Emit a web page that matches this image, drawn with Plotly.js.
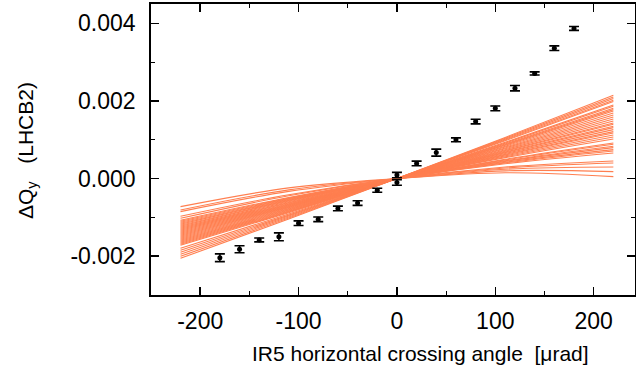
<!DOCTYPE html>
<html>
<head>
<meta charset="utf-8">
<script src="https://cdn.plot.ly/plotly-3.0.1.min.js"></script>
<style>html,body{margin:0;padding:0;background:#fff;}#chart{width:636px;height:374px;}</style>
</head>
<body>
<div id="chart"></div>
<script>
// Measured tune shift vs crossing angle
const angle = [-180, -160, -140, -120, -100, -80, -60, -40, -20, 0, 0, 20, 40, 60, 80, 100, 120, 140, 160, 180];
const dQy = [-0.00204, -0.00182, -0.00158, -0.00150, -0.00115, -0.00105, -0.00077, -0.00063, -0.00030, 0.00009, -0.00010,
             0.00039, 0.00067, 0.00100, 0.00147, 0.00181, 0.00233, 0.00271, 0.00336, 0.00387];
const dQyErr = [0.00010, 0.00009, 0.00005, 0.00010, 0.00006, 0.00006, 0.00006, 0.00006, 0.00005, 0.00007, 0.00007,
                0.00006, 0.00009, 0.00005, 0.00006, 0.00006, 0.00007, 0.00004, 0.00006, 0.00005];

// Model curves, sampled at these crossing angles
const curveX = [-220, -110, 0, 110, 220];
// values of each curve at -220, -110, 0, 110, 220
const curveAtM220 = [-0.002054, -0.002003, -0.001951, -0.001899, -0.001848, -0.001796, -0.001719, -0.001693, -0.001668, -0.001642,
  -0.001616, -0.001590, -0.001564, -0.001539, -0.001513, -0.001487, -0.001461, -0.001436, -0.001410, -0.001384,
  -0.001358, -0.001332, -0.001307, -0.001281, -0.001255, -0.001229, -0.001204, -0.001178, -0.001152, -0.001126,
  -0.001101, -0.001075, -0.001023, -0.000972, -0.000851, -0.000809, -0.000722];
const curveAtM110 = [-0.001039, -0.001014, -0.000989, -0.000964, -0.000941, -0.000911, -0.000878, -0.000861, -0.000848, -0.000834,
  -0.000817, -0.000801, -0.000785, -0.000769, -0.000753, -0.000737, -0.000723, -0.000707, -0.000693, -0.000677,
  -0.000661, -0.000646, -0.000631, -0.000614, -0.000598, -0.000576, -0.000562, -0.000546, -0.000532, -0.000516,
  -0.000502, -0.000486, -0.000440, -0.000415, -0.000330, -0.000290, -0.000240];
const curveAtP110 = [0.001062, 0.001039, 0.001017, 0.000994, 0.000975, 0.000936, 0.000914, 0.000891, 0.000875, 0.000859,
  0.000836, 0.000813, 0.000791, 0.000768, 0.000746, 0.000723, 0.000707, 0.000685, 0.000669, 0.000647,
  0.000624, 0.000607, 0.000585, 0.000562, 0.000540, 0.000498, 0.000482, 0.000459, 0.000444, 0.000421,
  0.000404, 0.000382, 0.000298, 0.000272, 0.000240, 0.000200, 0.000150];
const curveAtP220 = [0.002147, 0.002103, 0.002062, 0.002018, 0.001985, 0.001897, 0.001863, 0.001812, 0.001778, 0.001742,
  0.001691, 0.001639, 0.001588, 0.001536, 0.001485, 0.001433, 0.001399, 0.001348, 0.001314, 0.001263,
  0.001211, 0.001175, 0.001124, 0.001072, 0.001021, 0.000918, 0.000884, 0.000832, 0.000799, 0.000747,
  0.000711, 0.000660, 0.000454, 0.000402, 0.000299, 0.000180, 0.000052];

const xTickVals = [-200, -100, 0, 100, 200];
const yTickVals = [-0.002, 0.000, 0.002, 0.004];
const yTickText = ['-0.002', '0.000', '0.002', '0.004'];

const traces = [];
for (let i = 0; i < curveAtP220.length; i++) {
  traces.push({
    type: 'scatter', mode: 'lines', x: curveX,
    y: [curveAtM220[i], curveAtM110[i], 0, curveAtP110[i], curveAtP220[i]],
    line: {color: '#ff7f50', width: 1.1, shape: 'spline'},
    hoverinfo: 'skip', showlegend: false
  });
}
traces.push({
  type: 'scatter', mode: 'markers', x: angle, y: dQy,
  marker: {color: '#000', size: 5, symbol: 'circle'},
  error_y: {type: 'data', array: dQyErr, visible: true, color: '#000', thickness: 1.6, width: 5},
  showlegend: false
});

const font = {family: 'Liberation Sans, Arial, sans-serif', color: '#000'};
const layout = {
  width: 636, height: 374,
  margin: {l: 151, r: 1, t: 4, b: 79},
  paper_bgcolor: '#fff', plot_bgcolor: '#fff',
  showlegend: false,
  font: Object.assign({size: 22}, font),
  xaxis: {
    range: [-250, 242], tickvals: xTickVals, ticktext: xTickVals.map(String),
    ticks: 'inside', ticklen: 8, tickwidth: 1.5, tickcolor: '#000',
    showline: true, linewidth: 1.8, linecolor: '#000', mirror: 'ticks',
    showgrid: false, zeroline: false, ticklabelstandoff: 5,
    tickfont: Object.assign({size: 23}, font),
    minor: {tickvals: [-150, -50, 50, 150], ticks: 'inside', ticklen: 4, tickwidth: 1.2, tickcolor: '#000', showgrid: false}
  },
  yaxis: {
    range: [-0.003, 0.0045], tickvals: yTickVals, ticktext: yTickText,
    ticks: 'inside', ticklen: 8, tickwidth: 1.5, tickcolor: '#000',
    showline: true, linewidth: 1.8, linecolor: '#000', mirror: 'ticks',
    showgrid: false, zeroline: false, ticklabelstandoff: 9,
    tickfont: Object.assign({size: 23}, font),
    minor: {tickvals: [-0.001, 0.001, 0.003], ticks: 'inside', ticklen: 4, tickwidth: 1.2, tickcolor: '#000', showgrid: false}
  },
  annotations: [
    {text: 'IR5 horizontal crossing angle  [μrad]', xref: 'paper', yref: 'paper',
     x: (420 - 151) / 484, y: -(353 - 295) / 291, xanchor: 'center', yanchor: 'middle', showarrow: false,
     font: Object.assign({size: 21}, font)},
    {text: 'ΔQ<sub>y</sub>   (LHCB2)', xref: 'paper', yref: 'paper', textangle: -90,
     x: (27 - 151) / 484, y: (295 - 151) / 291, xanchor: 'center', yanchor: 'middle', showarrow: false,
     font: Object.assign({size: 21}, font)}
  ]
};
Plotly.newPlot('chart', traces, layout, {staticPlot: true});
</script>
</body>
</html>
